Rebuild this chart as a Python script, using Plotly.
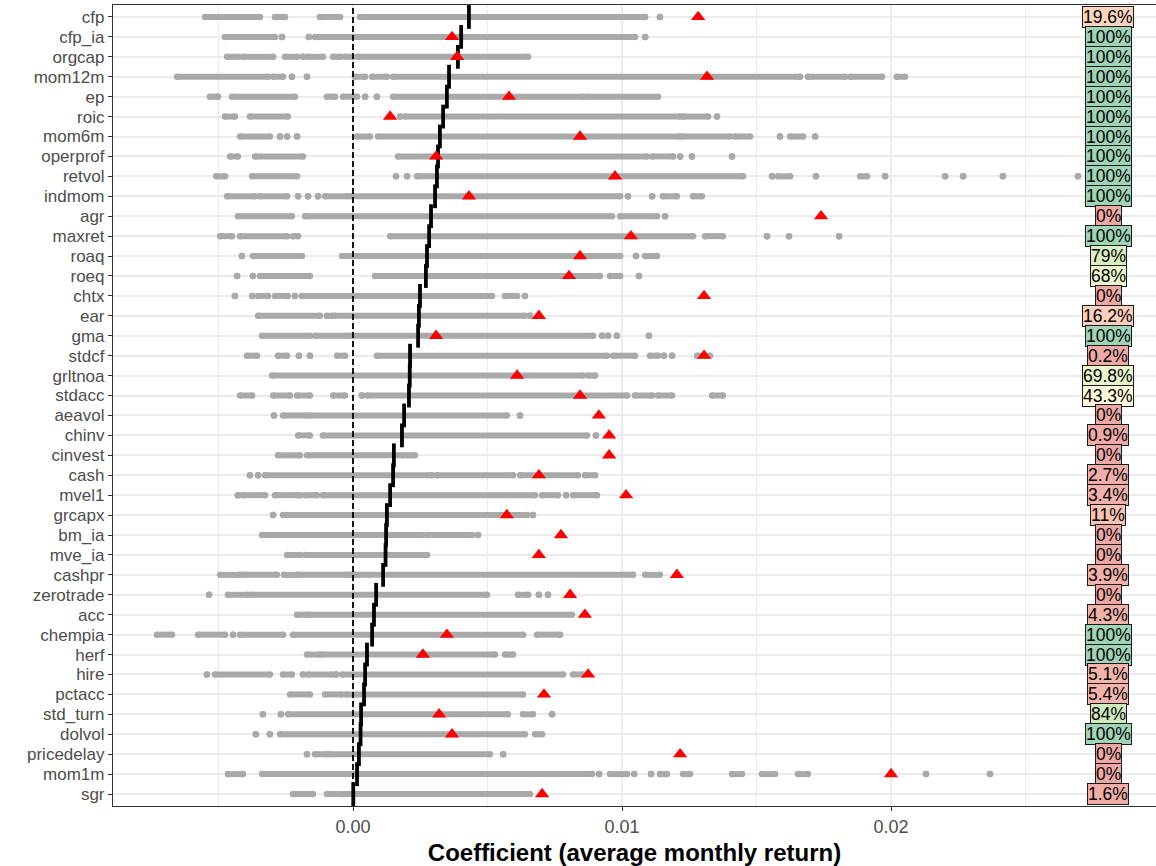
import plotly.graph_objects as go

categories = ["cfp", "cfp_ia", "orgcap", "mom12m", "ep", "roic", "mom6m", "operprof",
              "retvol", "indmom", "agr", "maxret", "roaq", "roeq", "chtx", "ear", "gma",
              "stdcf", "grltnoa", "stdacc", "aeavol", "chinv", "cinvest", "cash", "mvel1",
              "grcapx", "bm_ia", "mve_ia", "cashpr", "zerotrade", "acc", "chempia", "herf",
              "hire", "pctacc", "std_turn", "dolvol", "pricedelay", "mom1m", "sgr"]

# average coefficient (black tick)
mean_coef = [4.31e-3, 4.02e-3, 3.90e-3, 3.57e-3, 3.49e-3, 3.35e-3, 3.23e-3, 3.16e-3,
             3.12e-3, 3.05e-3, 2.90e-3, 2.83e-3, 2.75e-3, 2.71e-3, 2.49e-3, 2.45e-3, 2.42e-3,
             2.12e-3, 2.11e-3, 2.08e-3, 1.90e-3, 1.82e-3, 1.52e-3, 1.49e-3, 1.38e-3,
             1.26e-3, 1.23e-3, 1.21e-3, 1.12e-3, 0.86e-3, 0.78e-3, 0.71e-3, 0.52e-3,
             0.45e-3, 0.41e-3, 0.30e-3, 0.28e-3, 0.22e-3, 0.15e-3, 0.01e-3]

# original-study coefficient (red triangle)
orig_coef = [12.83e-3, 3.68e-3, 3.87e-3, 13.16e-3, 5.80e-3, 1.38e-3, 8.44e-3, 3.09e-3,
             9.74e-3, 4.31e-3, 17.40e-3, 10.33e-3, 8.44e-3, 8.03e-3, 13.05e-3, 6.91e-3, 3.09e-3,
             13.05e-3, 6.10e-3, 8.44e-3, 9.14e-3, 9.52e-3, 9.52e-3, 6.91e-3, 10.15e-3,
             5.72e-3, 7.73e-3, 6.91e-3, 12.04e-3, 8.07e-3, 8.62e-3, 3.49e-3, 2.60e-3,
             8.74e-3, 7.10e-3, 3.20e-3, 3.68e-3, 12.16e-3, 20.00e-3, 7.03e-3]

# share significant (label)
pct_sig = [19.6, 100, 100, 100, 100, 100, 100, 100, 100, 100, 0, 100, 79, 68, 0, 16.2, 100,
           0.2, 69.8, 43.3, 0, 0.9, 0, 2.7, 3.4, 11, 0, 0, 3.9, 0, 4.3, 100, 100,
           5.1, 5.4, 84, 100, 0, 0, 1.6]

# spans of the grey coefficient dots per row (lo, hi); lo == hi is a single dot
dot_ranges = [
    [(-5.50e-3, -3.46e-3), (-2.90e-3, -2.53e-3), (-1.23e-3, -0.48e-3), (0.26e-3, 10.86e-3), (11.41e-3, 11.41e-3)],
    [(-4.76e-3, -2.90e-3), (-2.64e-3, -2.64e-3), (-1.64e-3, -1.64e-3), (-1.41e-3, 10.48e-3), (10.86e-3, 10.86e-3)],
    [(-4.68e-3, -4.28e-3), (-4.09e-3, -2.97e-3), (-2.53e-3, -2.08e-3), (-1.86e-3, -1.86e-3), (-1.67e-3, -1.12e-3),
     (-0.74e-3, -0.48e-3), (-0.30e-3, 0.0), (0.19e-3, 6.51e-3)],
    [(-6.54e-3, -3.16e-3), (-2.97e-3, -2.60e-3), (-2.27e-3, -2.27e-3), (-1.71e-3, -1.71e-3), (0.07e-3, 0.45e-3),
     (0.71e-3, 1.26e-3), (1.49e-3, 16.62e-3), (16.91e-3, 18.29e-3), (18.48e-3, 19.67e-3), (20.22e-3, 20.52e-3)],
    [(-5.32e-3, -5.02e-3), (-4.50e-3, -2.16e-3), (-0.97e-3, -0.67e-3), (-0.37e-3, 0.15e-3), (0.45e-3, 0.45e-3),
     (0.89e-3, 0.89e-3), (1.49e-3, 8.55e-3), (8.70e-3, 11.34e-3)],
    [(-4.76e-3, -4.39e-3), (-3.83e-3, -2.42e-3), (1.75e-3, 1.75e-3), (1.93e-3, 12.16e-3), (12.27e-3, 13.20e-3),
     (13.53e-3, 13.53e-3)],
    [(-4.20e-3, -3.09e-3), (-2.71e-3, -2.71e-3), (-2.45e-3, -2.45e-3), (-2.08e-3, -2.08e-3), (0.15e-3, 0.63e-3),
     (0.93e-3, 12.16e-3), (12.27e-3, 14.02e-3), (14.20e-3, 14.76e-3), (15.87e-3, 15.87e-3), (16.25e-3, 16.73e-3),
     (17.18e-3, 17.18e-3)],
    [(-4.57e-3, -4.28e-3), (-3.64e-3, -1.86e-3), (1.67e-3, 10.93e-3), (11.12e-3, 11.90e-3), (12.16e-3, 12.16e-3),
     (12.60e-3, 12.60e-3), (14.09e-3, 14.09e-3)],
    [(-5.09e-3, -4.76e-3), (-3.75e-3, -2.08e-3), (1.60e-3, 1.60e-3), (2.01e-3, 2.01e-3), (2.38e-3, 14.50e-3),
     (15.58e-3, 15.58e-3), (15.80e-3, 16.25e-3), (17.21e-3, 17.21e-3), (18.85e-3, 19.11e-3), (19.78e-3, 19.78e-3),
     (22.01e-3, 22.01e-3), (22.68e-3, 22.68e-3), (24.16e-3, 24.16e-3), (26.95e-3, 26.95e-3)],
    [(-4.68e-3, -3.64e-3), (-3.46e-3, -2.45e-3), (-2.04e-3, -2.04e-3), (-1.67e-3, -1.67e-3), (-1.30e-3, -1.30e-3),
     (-1.04e-3, -0.22e-3), (-0.11e-3, 9.93e-3), (10.22e-3, 10.22e-3), (11.12e-3, 11.12e-3), (11.52e-3, 12.04e-3),
     (12.64e-3, 12.97e-3)],
    [(-4.28e-3, -2.27e-3), (-1.78e-3, 9.63e-3), (9.93e-3, 11.30e-3), (11.60e-3, 11.60e-3)],
    [(-4.94e-3, -4.50e-3), (-4.20e-3, -2.45e-3), (-2.23e-3, -2.04e-3), (1.38e-3, 12.64e-3), (13.09e-3, 13.75e-3),
     (15.39e-3, 15.39e-3), (16.21e-3, 16.21e-3), (18.07e-3, 18.07e-3)],
    [(-4.13e-3, -4.13e-3), (-3.72e-3, -1.90e-3), (-0.41e-3, 9.93e-3), (10.52e-3, 10.52e-3), (10.86e-3, 11.30e-3)],
    [(-4.31e-3, -4.31e-3), (-3.72e-3, -3.72e-3), (-3.46e-3, -1.60e-3), (0.82e-3, 9.18e-3), (9.55e-3, 9.93e-3),
     (10.63e-3, 10.63e-3)],
    [(-4.39e-3, -4.39e-3), (-3.75e-3, -3.75e-3), (-3.53e-3, -3.16e-3), (-2.90e-3, -2.42e-3), (-2.16e-3, -2.16e-3),
     (-1.90e-3, 5.17e-3), (5.65e-3, 6.10e-3), (6.39e-3, 6.39e-3)],
    [(-3.53e-3, -1.23e-3), (-0.97e-3, -0.78e-3), (-0.67e-3, 6.39e-3), (6.58e-3, 6.58e-3)],
    [(-3.38e-3, -1.60e-3), (-1.41e-3, -0.22e-3), (-0.11e-3, 8.92e-3), (9.26e-3, 9.26e-3), (9.48e-3, 9.48e-3),
     (9.81e-3, 9.81e-3), (11.00e-3, 11.00e-3)],
    [(-3.94e-3, -3.57e-3), (-2.79e-3, -2.45e-3), (-2.01e-3, -2.01e-3), (-1.60e-3, -1.60e-3), (-0.59e-3, -0.30e-3),
     (0.89e-3, 9.44e-3), (9.67e-3, 10.48e-3), (11.04e-3, 11.34e-3), (11.56e-3, 11.56e-3), (11.86e-3, 11.86e-3),
     (12.79e-3, 13.27e-3)],
    [(-3.01e-3, 8.55e-3), (8.74e-3, 9.00e-3)],
    [(-4.20e-3, -3.75e-3), (-2.97e-3, -2.34e-3), (-2.08e-3, -1.60e-3), (-0.74e-3, -0.30e-3), (0.33e-3, 0.33e-3),
     (0.52e-3, 10.19e-3), (10.48e-3, 11.12e-3), (11.34e-3, 11.86e-3), (13.35e-3, 13.75e-3)],
    [(-2.94e-3, -2.94e-3), (-2.60e-3, -1.71e-3), (-1.60e-3, 5.72e-3), (6.21e-3, 6.21e-3)],
    [(-2.04e-3, -1.60e-3), (-1.12e-3, 8.70e-3), (9.03e-3, 9.03e-3)],
    [(-2.79e-3, -1.97e-3), (-1.71e-3, 1.86e-3), (2.01e-3, 2.30e-3)],
    [(-3.83e-3, -3.83e-3), (-3.53e-3, -3.53e-3), (-3.27e-3, 2.94e-3), (3.12e-3, 5.95e-3), (6.21e-3, 8.36e-3),
     (8.62e-3, 9.00e-3)],
    [(-4.28e-3, -4.28e-3), (-4.09e-3, -3.27e-3), (-2.90e-3, -2.08e-3), (-1.97e-3, -1.97e-3), (-1.78e-3, -1.34e-3),
     (-1.12e-3, 6.77e-3), (7.03e-3, 7.62e-3), (7.92e-3, 7.92e-3), (8.18e-3, 9.07e-3)],
    [(-2.97e-3, -2.97e-3), (-2.60e-3, 6.47e-3), (6.69e-3, 6.69e-3)],
    [(-3.38e-3, 2.57e-3), (2.75e-3, 4.42e-3), (4.65e-3, 4.65e-3)],
    [(-2.45e-3, -1.97e-3), (-1.78e-3, 2.75e-3)],
    [(-4.94e-3, -4.20e-3), (-4.09e-3, -2.83e-3), (-2.57e-3, -2.08e-3), (-2.01e-3, -0.22e-3), (-0.11e-3, 0.07e-3),
     (0.15e-3, 10.41e-3), (10.86e-3, 11.41e-3)],
    [(-5.35e-3, -5.35e-3), (-4.65e-3, -3.90e-3), (-3.75e-3, 4.98e-3), (6.13e-3, 6.51e-3), (6.91e-3, 6.91e-3),
     (7.25e-3, 7.25e-3)],
    [(-2.08e-3, -1.71e-3), (-1.64e-3, 8.14e-3)],
    [(-7.29e-3, -6.73e-3), (-5.76e-3, -4.76e-3), (-4.46e-3, -4.46e-3), (-4.20e-3, -2.60e-3), (-2.23e-3, 6.32e-3),
     (6.84e-3, 7.70e-3)],
    [(-1.71e-3, -1.23e-3), (-1.15e-3, 5.28e-3), (5.65e-3, 5.95e-3)],
    [(-5.43e-3, -5.43e-3), (-5.13e-3, -3.09e-3), (-2.60e-3, -2.27e-3), (-1.86e-3, -1.86e-3), (-1.67e-3, -0.78e-3),
     (-0.63e-3, -0.63e-3), (-0.41e-3, 7.81e-3), (8.18e-3, 8.55e-3)],
    [(-2.34e-3, -1.60e-3), (-1.04e-3, -0.41e-3), (-0.26e-3, 6.32e-3)],
    [(-3.35e-3, -3.35e-3), (-2.68e-3, -2.68e-3), (-2.42e-3, 5.76e-3), (6.32e-3, 6.69e-3), (7.40e-3, 7.40e-3)],
    [(-3.61e-3, -3.61e-3), (-3.09e-3, -3.09e-3), (-2.71e-3, 6.39e-3), (6.77e-3, 7.03e-3)],
    [(-1.71e-3, -1.71e-3), (-1.41e-3, -0.97e-3), (-0.86e-3, 5.09e-3), (5.58e-3, 5.58e-3)],
    [(-4.65e-3, -4.09e-3), (-3.38e-3, 8.89e-3), (9.15e-3, 9.15e-3), (9.55e-3, 10.19e-3), (10.45e-3, 10.45e-3),
     (11.08e-3, 11.08e-3), (11.41e-3, 11.67e-3), (12.27e-3, 12.53e-3), (14.09e-3, 14.46e-3), (15.20e-3, 15.69e-3),
     (16.54e-3, 16.91e-3), (21.30e-3, 21.30e-3), (23.68e-3, 23.68e-3)],
    [(-2.23e-3, -1.49e-3), (-0.97e-3, -0.37e-3), (-0.30e-3, 6.58e-3)],
]

label_x = 0.02807
x_range = [-0.008922, 0.029851]

FONT = "Liberation Sans, Arial, sans-serif"

# RdYlGn (7-class) blended with white, for the label fills
palette = [(215, 48, 39), (252, 141, 89), (254, 224, 139), (255, 255, 191),
           (217, 239, 139), (145, 207, 96), (26, 152, 80)]


def fill_color(p, alpha=0.42):
    t = max(0.0, min(1.0, p / 100.0)) * (len(palette) - 1)
    i = min(int(t), len(palette) - 2)
    f = t - i
    c = [palette[i][k] + (palette[i + 1][k] - palette[i][k]) * f for k in range(3)]
    c = [round(255 - alpha * (255 - v)) for v in c]
    return "rgb({},{},{})".format(*c)


# grey dot spans
sx, sy = [], []
for cat, spans in zip(categories, dot_ranges):
    for lo, hi in spans:
        sx += [lo, hi, None]
        sy += [cat, cat, None]

fig = go.Figure()
fig.add_trace(go.Scatter(
    x=sx, y=sy, mode="lines+markers",
    line=dict(color="#a9a9a9", width=6),
    marker=dict(color="#a9a9a9", size=6.5),
    hoverinfo="skip", showlegend=False))

fig.add_trace(go.Scatter(
    x=mean_coef, y=categories, mode="markers",
    marker=dict(symbol="line-ns", size=17, line=dict(color="black", width=3.8)),
    showlegend=False))

fig.add_trace(go.Scatter(
    x=orig_coef, y=categories, mode="markers",
    marker=dict(symbol="triangle-up", size=12.5, color="#ff0000"),
    showlegend=False))

# dashed zero line
fig.add_shape(type="line", xref="x", yref="paper", x0=0, x1=0, y0=0, y1=1,
              line=dict(color="black", width=1.8, dash="6px,3px"), layer="above")

for cat, p in zip(categories, pct_sig):
    fig.add_annotation(x=label_x, y=cat, xref="x", yref="y",
                       text="{:g}%".format(p), showarrow=False,
                       font=dict(family=FONT, size=17.5, color="black"),
                       bgcolor=fill_color(p), bordercolor="#1a1a1a",
                       borderwidth=1, borderpad=0)

fig.update_layout(
    width=1156, height=866,
    margin=dict(l=113, r=0, t=5, b=60, autoexpand=False),
    plot_bgcolor="white", paper_bgcolor="white",
    font=dict(family=FONT, size=17, color="#4d4d4d"),
    showlegend=False,
)

fig.update_xaxes(
    range=x_range, tick0=0, dtick=0.01, tickformat=".2f",
    showgrid=True, gridcolor="#ebebeb", gridwidth=1.6, zeroline=False,
    minor=dict(dtick=0.005, tick0=0, showgrid=True, gridcolor="#ebebeb", gridwidth=0.9),
    ticks="outside", ticklen=4, tickcolor="#333333", tickwidth=1.1,
    tickfont=dict(family=FONT, size=18, color="#4d4d4d"),
    showline=True, linecolor="#333333", linewidth=1.2, mirror=True,
    automargin=False,
    title=dict(text="<b>Coefficient (average monthly return)</b>",
               font=dict(family=FONT, size=24, color="black"), standoff=8),
)

fig.update_yaxes(
    type="category", categoryorder="array", categoryarray=categories[::-1],
    range=[-0.6, len(categories) - 0.4], dtick=1,
    showgrid=True, gridcolor="#ebebeb", gridwidth=1.6, zeroline=False,
    ticks="outside", ticklen=4, tickcolor="#333333", tickwidth=1.1,
    tickfont=dict(family=FONT, size=17, color="#4d4d4d"),
    showline=True, linecolor="#333333", linewidth=1.2, mirror=False,
    automargin=False,
)

fig.write_html("out.html", config={"displayModeBar": False},
               post_script="document.body.style.margin='0';")
